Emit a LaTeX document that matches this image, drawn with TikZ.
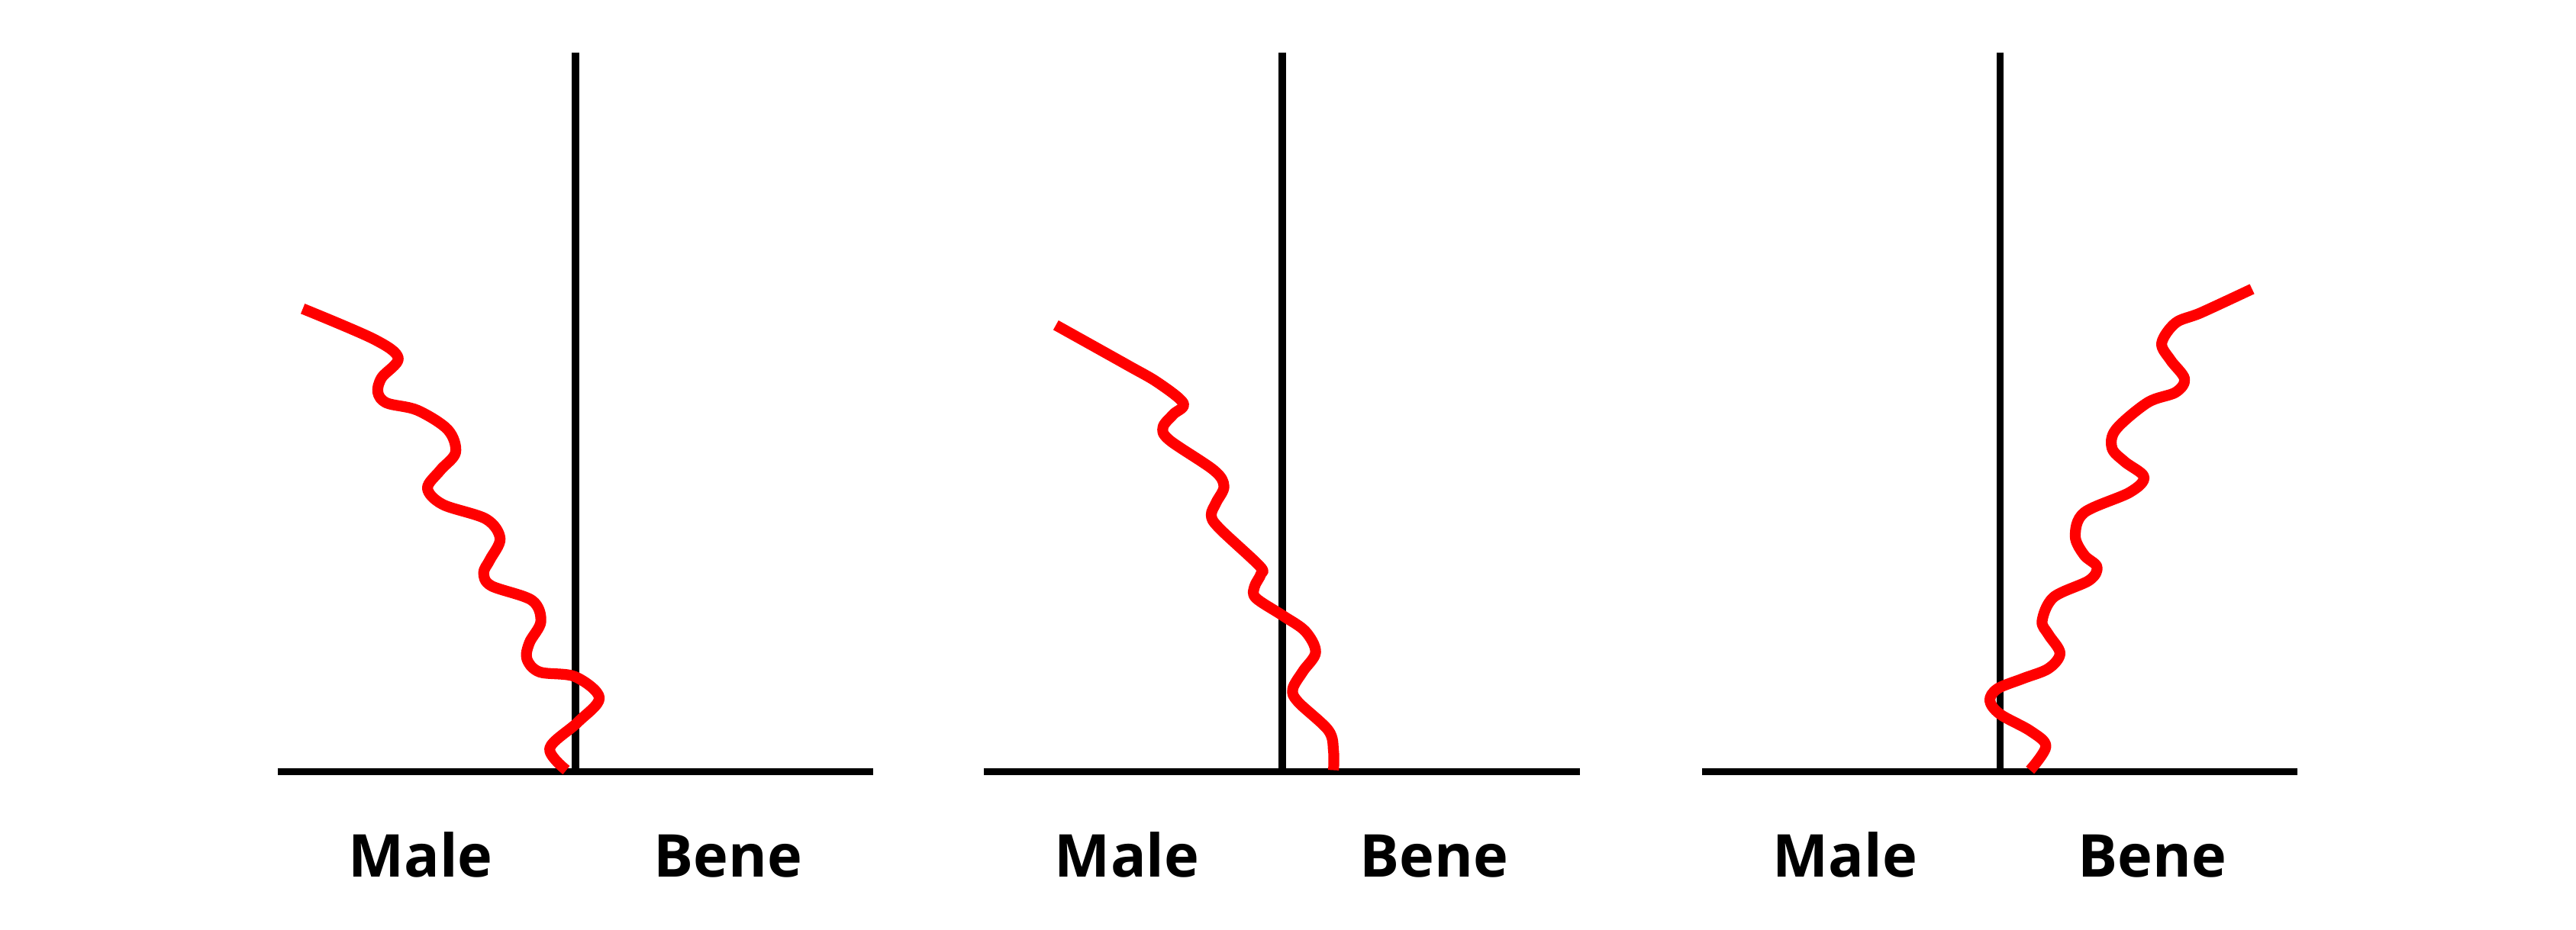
\documentclass[tikz,border=0pt]{standalone}
\usepackage{fontspec}
\newfontfamily\labelfont{Open Sans}
\begin{document}
\begin{tikzpicture}[x=0.5pt,y=-0.5pt,
    axis/.style={line width=2.2pt,black},
    wave/.style={line width=3.3pt,red,line join=round},
    lbl/.style={anchor=base,font=\labelfont\fontsize{18}{20}\selectfont\bfseries}]
  \useasboundingbox (0,0) rectangle (1568,566);
  % first panel
  \draw[axis] (169,470) -- (531.5,470);
  \draw[axis] (350.4,32) -- (350.4,470);
  \node[lbl] (male1) at (256,534) {Male};
  \node[lbl] (bene1) at (443,534) {Bene};
  \draw[wave] plot[smooth,tension=0.55] coordinates {(184.3,188) (227.7,206.6) (242.4,218.1) (232.3,230) (230,238.9) (235.4,245.4) (254,249.8) (272.6,261.7) (277.3,275.5) (268,286.4) (260.2,297.3) (269.5,307.2) (295.9,316.1) (304.4,328) (298.2,340.9) (294.4,348.8) (299,356.7) (323.8,365.6) (329.2,378.5) (322.3,391.3) (320.7,401.2) (328.4,409.2) (350.1,412.1) (364.8,425) (351.6,439.9) (334.6,455.7) (344.7,469)};
  % second panel
  \draw[axis] (599,470) -- (961.5,470);
  \draw[axis] (780.4,32) -- (780.4,470);
  \node[lbl] (male2) at (686,534) {Male};
  \node[lbl] (bene2) at (873,534) {Bene};
  \draw[wave] plot[smooth,tension=0.55] coordinates {(642.7,198) (686.2,222.3) (704.8,233) (720.3,245.6) (714.1,252.4) (707.9,260.2) (711.8,268) (738.9,286.4) (745,296.1) (740.4,305.8) (737.3,313.6) (741.9,321.4) (766.7,344.7) (767.5,349.6) (763.6,357.3) (764.4,364.1) (780.7,374.8) (794.6,384.5) (800.8,397.2) (793.1,408.8) (786.9,419.5) (790,427.3) (808.6,444.8) (811.7,457.4) (811.7,469)};
  % third panel
  \draw[axis] (1036,470) -- (1398.5,470);
  \draw[axis] (1217.4,32) -- (1217.4,470);
  \node[lbl] (male3) at (1123,534) {Male};
  \node[lbl] (bene3) at (1310,534) {Bene};
  \draw[wave] plot[smooth,tension=0.55] coordinates {(1370.8,176) (1339.8,190.4) (1324.3,196.6) (1315.8,209) (1321.2,219.3) (1329.7,230.7) (1324.3,238.9) (1307.3,245.1) (1287.9,261.6) (1285.6,273) (1293.3,281.2) (1305,290.5) (1296.4,299.8) (1268.6,312.2) (1263.2,326.6) (1268.6,338) (1276.4,345.2) (1271.7,353.4) (1250,363.7) (1243,378.2) (1246.9,386.4) (1253.9,397.8) (1246.9,407.1) (1231.4,413.2) (1215.9,419.4) (1211.2,426.6) (1217.4,434.9) (1236,445.2) (1245.3,454.5) (1235.7,469)};
\end{tikzpicture}
\end{document}
